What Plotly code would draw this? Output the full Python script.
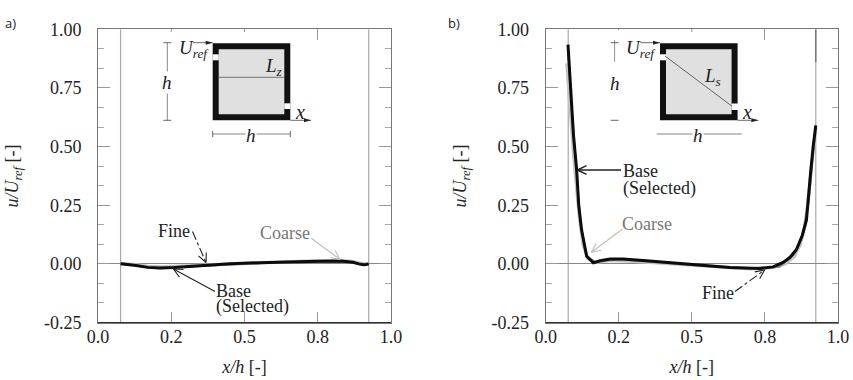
import math
import plotly.graph_objects as go

W, H = 853, 380
# ---------- data ----------
a_base_x = [0.077, 0.10, 0.13, 0.17, 0.21, 0.26, 0.34, 0.45, 0.55, 0.65, 0.75, 0.83, 0.87, 0.89, 0.905, 0.915, 0.924]
a_base_y = [0.000, -0.002, -0.007, -0.015, -0.018, -0.016, -0.008, 0.000, 0.005, 0.009, 0.011, 0.012, 0.007, 0.000, -0.004, -0.003, 0.000]
a_coarse_x = [0.077, 0.12, 0.17, 0.22, 0.30, 0.40, 0.50, 0.60, 0.70, 0.80, 0.86, 0.89, 0.91, 0.924]
a_coarse_y = [0.002, -0.002, -0.011, -0.013, -0.009, -0.003, 0.003, 0.008, 0.012, 0.014, 0.012, 0.004, 0.000, 0.001]
a_fine_x = [0.077, 0.12, 0.17, 0.22, 0.30, 0.40, 0.50, 0.60, 0.70, 0.80, 0.86, 0.90, 0.924]
a_fine_y = [0.000, -0.005, -0.016, -0.019, -0.012, -0.005, 0.001, 0.006, 0.009, 0.010, 0.008, -0.003, -0.001]

b_base_x = [0.0763, 0.085, 0.095, 0.106, 0.110, 0.113, 0.123, 0.140, 0.163, 0.186, 0.22, 0.265, 0.345, 0.436, 0.55, 0.63, 0.732, 0.778, 0.812, 0.835, 0.858, 0.878, 0.892, 0.898, 0.907, 0.915, 0.924]
b_base_y = [0.935, 0.76, 0.55, 0.40, 0.31, 0.25, 0.143, 0.033, 0.004, 0.013, 0.021, 0.021, 0.013, 0.004, -0.009, -0.016, -0.020, -0.013, 0.006, 0.027, 0.061, 0.122, 0.186, 0.286, 0.40, 0.50, 0.59]
b_coarse_x = [0.072, 0.082, 0.095, 0.105, 0.115, 0.128, 0.145, 0.17, 0.22, 0.30, 0.40, 0.50, 0.60, 0.70, 0.78, 0.82, 0.85, 0.872, 0.886, 0.897, 0.908, 0.924]
b_coarse_y = [0.855, 0.68, 0.47, 0.33, 0.20, 0.08, 0.020, 0.006, 0.015, 0.011, 0.003, -0.007, -0.016, -0.021, -0.015, 0.000, 0.030, 0.085, 0.160, 0.260, 0.40, 0.58]
b_fine_x = [0.0763, 0.09, 0.105, 0.118, 0.14, 0.17, 0.25, 0.40, 0.55, 0.70, 0.80, 0.85, 0.88, 0.90, 0.924]
b_fine_y = [0.92, 0.64, 0.40, 0.18, 0.030, 0.008, 0.020, 0.006, -0.010, -0.019, -0.012, 0.040, 0.125, 0.270, 0.59]

x_ticks = [0, 0.25, 0.5, 0.75, 1.0]
x_labels = ["0.0", "0.2", "0.5", "0.8", "1.0"]
y_ticks = [-0.25, 0, 0.25, 0.5, 0.75, 1.0]
y_labels = ["-0.25", "0.00", "0.25", "0.50", "0.75", "1.00"]
y_minor = [-0.1667, -0.0833, 0.0833, 0.1667, 0.3333, 0.4167, 0.5833, 0.6667, 0.8333, 0.9167]
wall_x = [0.077, 0.924]
# ---------- helpers (pixel -> paper) ----------
px = lambda v: v / W
py = lambda v: 1 - v / H
shapes, notes = [], []
SERIF = "Liberation Serif"


def line(x0, y0, x1, y1, color="#222", width=1, dash=None):
    shapes.append(dict(type="line", xref="paper", yref="paper", x0=px(x0), y0=py(y0), x1=px(x1), y1=py(y1),
                       line=dict(color=color, width=width, dash=dash)))


def rect(x0, y0, x1, y1, color):
    shapes.append(dict(type="rect", xref="paper", yref="paper", x0=px(x0), y0=py(y0), x1=px(x1), y1=py(y1),
                       fillcolor=color, line=dict(width=0)))


def arrow(x0, y0, x1, y1, color="#222", dash=None, size=10, width=1.1):
    line(x0, y0, x1, y1, color, width, dash)
    ang = math.atan2(y1 - y0, x1 - x0)
    for d in (2.7, -2.7):
        line(x1, y1, x1 + size * math.cos(ang + d), y1 + size * math.sin(ang + d), color, width)


def solid_arrow(x0, y0, x1, y1):
    line(x0, y0, x1, y1, "#444", 0.8)
    shapes.append(dict(type="path", xref="paper", yref="paper",
                       path=f"M{px(x1)},{py(y1)} L{px(x1-7)},{py(y1-2)} L{px(x1-7)},{py(y1+2)} Z",
                       fillcolor="#222", line=dict(width=0)))


def text(x, y, s, size=18, color="#222", anchor="left", bg=None):
    n = dict(xref="paper", yref="paper", x=px(x), y=py(y), text=s, showarrow=False, xanchor=anchor,
             yanchor="middle", align="left", font=dict(family=SERIF, size=size, color=color), borderpad=0)
    if bg:
        n["bgcolor"] = bg
    notes.append(n)


def inset(dx, label, diag):
    rect(212.7 + dx, 43.3, 290.3 + dx, 120.3, "#111")
    rect(218.7 + dx, 49.3, 284.3 + dx, 114.3, "#e0e0e0")
    rect(212.7 + dx, 54.3, 218.7 + dx, 60.3, "#fff")
    if diag:
        rect(284.3 + dx, 103.5, 292 + dx, 110, "#fff")
        line(217.7 + dx, 56, 284.4 + dx, 106, "#444", 0.8)
        text(255.4 + dx, 77, f"<i>L<sub>{label}</sub></i>", 19)
        line(167.3 + dx, 40, 167.3 + dx, 62, "#666", 0.7)
        line(163.3 + dx, 120.3, 171.3 + dx, 120.3, "#444", 0.8)
        line(163.3 + dx, 42.7, 171.3 + dx, 42.7, "#444", 0.8)
        line(209.4 + dx, 134, 294.4 + dx, 134, "#555", 0.7)
        text(250.7 + dx, 135, "<i>h</i>", 19, anchor="center", bg="#fff")
        text(167.3 + dx, 83, "<i>h</i>", 19, anchor="center", bg="#fff")
    else:
        rect(284.3 + dx, 103.3, 290.3 + dx, 109, "#fff")
        line(218.7 + dx, 77.3, 284.3 + dx, 77.3, "#555", 0.8)
        text(264 + dx, 67, f"<i>L<sub>{label}</sub></i>", 19)
        line(167.3 + dx, 42.7, 167.3 + dx, 120.3, "#555", 0.7)
        line(163.3 + dx, 42.7, 171.3 + dx, 42.7, "#444", 0.8)
        line(163.3 + dx, 120.3, 171.3 + dx, 120.3, "#444", 0.8)
        line(212.7 + dx, 134, 290.3 + dx, 134, "#555", 0.7)
        line(212.7 + dx, 131, 212.7 + dx, 137, "#444", 0.8)
        line(290.3 + dx, 131, 290.3 + dx, 137, "#444", 0.8)
        text(251.5 + dx, 135, "<i>h</i>", 19, anchor="center", bg="#fff")
        text(167.3 + dx, 82, "<i>h</i>", 19, anchor="center", bg="#fff")
    solid_arrow(193 + dx, 42.7, 212.7 + dx, 42.7)
    solid_arrow(290.3 + dx, 120.3, 311 + dx, 120.3)
    text(177.5 + dx, 49, "<i>U<sub>ref</sub></i>", 19)
    text(294 + dx, 112, "<i>x</i>", 20)


# ---------- figure ----------
fig = go.Figure()
AX = dict(a=(98 / W, 391 / W), b=(545.7 / W, 838 / W))
YD = [1 - 322.5 / H, 1 - 29.3 / H]
series = [
    ("x", "y", a_coarse_x, a_coarse_y, a_fine_x, a_fine_y, a_base_x, a_base_y),
    ("x2", "y2", b_coarse_x, b_coarse_y, b_fine_x, b_fine_y, b_base_x, b_base_y),
]
for xa, ya, cx, cy, fx, fy, bx, by in series:
    fig.add_trace(go.Scatter(x=cx, y=cy, xaxis=xa, yaxis=ya, mode="lines", name="Coarse",
                             line=dict(color="#c4c4c4", width=3.2)))
    fig.add_trace(go.Scatter(x=fx, y=fy, xaxis=xa, yaxis=ya, mode="lines", name="Fine",
                             line=dict(color="#888", width=2)))
    fig.add_trace(go.Scatter(x=bx, y=by, xaxis=xa, yaxis=ya, mode="lines", name="Base (Selected)",
                             line=dict(color="#0c0c0c", width=3)))
    for wx in wall_x:
        shapes.append(dict(type="line", xref=xa, yref=ya, x0=wx, x1=wx, y0=-0.25, y1=1.0, layer="below",
                           line=dict(color="#a8a8a8", width=1.2)))

tf = dict(family=SERIF, size=18, color="#222")
xaxis = dict(range=[0, 1], tickvals=x_ticks, ticktext=x_labels, ticks="inside", ticklen=11, tickcolor="#999",
             tickwidth=1, showgrid=False, zeroline=False, showline=True, linecolor="#777", linewidth=1,
             mirror="allticks", tickfont=tf, ticklabelstandoff=-2,
             title=dict(text="<i>x/h</i> [-]", font=tf, standoff=14),
             automargin=False)
yaxis = dict(range=[-0.25, 1.0], tickvals=y_ticks, ticktext=y_labels, ticks="inside", ticklen=12, tickcolor="#999",
             tickwidth=1, showgrid=False, zeroline=True, zerolinecolor="#888", zerolinewidth=1, showline=True,
             linecolor="#777", linewidth=1, mirror="allticks", tickfont=tf, ticklabelstandoff=12,
             minor=dict(tickvals=y_minor, ticks="inside", ticklen=6, tickcolor="#aaa", tickwidth=1),
             title=dict(text="<i>u/U<sub>ref</sub></i> [-]", font=tf, standoff=20),
             automargin=False)

for x0, x1 in ((98, 391), (545.7, 838)):
    line(x0, 322.5, x1, 322.5, "#333", 1.2)

# top-edge ticks are short or absent in the original
for xpos, y_end in ((171.25, 32), (244.5, 32), (692, 32), (618.8, 41)):
    line(xpos, 30, xpos, 41, "#fff", 2)
    if y_end < 41:
        line(xpos, 29.8, xpos, y_end, "#999", 1)
line(815.8, 29.5, 815.8, 62, "#666", 1.2)

inset(0, "z", False)
inset(447.3, "s", True)

# panel a callouts
arrow(192.5, 231.5, 206, 262.5, "#222", "dashdot")
arrow(215, 291.5, 173.5, 269, "#222")
arrow(311.5, 238.5, 340, 259.5, "#bdbdbd")
text(156.5, 230.5, "Fine")
text(259, 233, "Coarse", color="#777")
text(215, 291, "Base")
text(215, 306, "(Selected)")
# panel b callouts
arrow(621, 170, 577.5, 170, "#222", width=1.4)
arrow(622.5, 229, 591.5, 252.3, "#bdbdbd")
arrow(735, 291.5, 764.5, 270, "#222", "dashdot")
text(621.5, 170.5, "Base")
text(621.5, 188, "(Selected)")
text(621, 223.5, "Coarse", color="#777")
text(701, 293, "Fine")
# panel labels
notes.append(dict(xref="paper", yref="paper", x=px(3), y=py(11.5), text="a)", showarrow=False, xanchor="left",
                  font=dict(family="Open Sans", size=13, color="#222")))
notes.append(dict(xref="paper", yref="paper", x=px(446), y=py(11.5), text="b)", showarrow=False, xanchor="left",
                  font=dict(family="Open Sans", size=13, color="#222")))

fig.update_layout(
    width=W, height=H, autosize=False, showlegend=False, paper_bgcolor="white", plot_bgcolor="white",
    margin=dict(l=0, r=0, t=0, b=0), shapes=shapes, annotations=notes,
    xaxis=dict(xaxis, domain=AX["a"], anchor="y"), yaxis=dict(yaxis, domain=YD, anchor="x"),
    xaxis2=dict(xaxis, domain=AX["b"], anchor="y2"), yaxis2=dict(yaxis, domain=YD, anchor="x2"),
)
fig.write_html("out.html", config={"displayModeBar": False},
               post_script="document.body.style.margin='0';")
